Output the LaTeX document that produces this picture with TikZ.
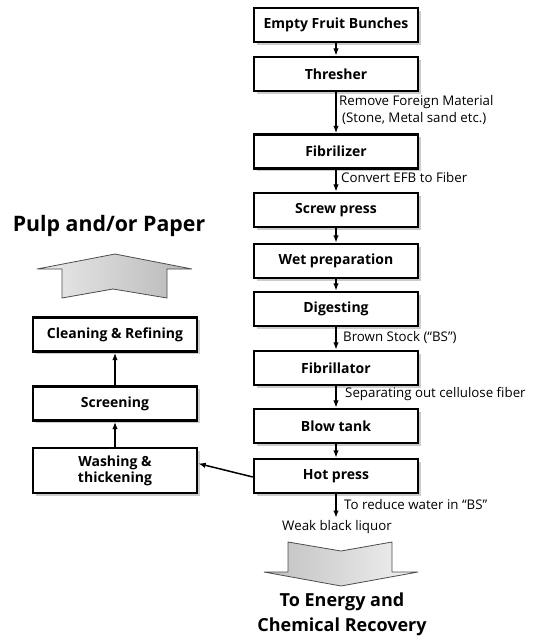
\documentclass[tikz,border=0pt]{standalone}
\usepackage{fontspec}
\setmainfont{Open Sans}
\usetikzlibrary{arrows.meta,shadows}
\begin{document}
\begin{tikzpicture}[x=1pt,y=-1pt,
  stepbox/.style={draw=black,line width=2.4pt,fill=white,minimum width=164pt,minimum height=34pt,
    inner sep=0pt,font=\fontsize{14}{16}\selectfont\bfseries,align=center,
    drop shadow={shadow xshift=2.5pt,shadow yshift=-2.5pt,opacity=0.4,fill=gray}},
  flow/.style={line width=1.5pt,-{Latex[length=7.5pt,width=5.5pt]}},
  lab/.style={font=\fontsize{13.3}{16.5}\selectfont,inner sep=0pt,anchor=west,align=left},
  big/.style={inner sep=0pt},
  bigarrow/.style={draw=black!70,line width=0.8pt}
]
\useasboundingbox (0,0) rectangle (535,638);
% right column
\node[stepbox] (efb) at (336,25) {Empty Fruit Bunches};
\node[stepbox] (thr) at (336,74) {Thresher};
\node[stepbox] (fbz) at (336,151.5) {Fibrilizer};
\node[stepbox] (scr) at (336,210) {Screw press};
\node[stepbox] (wet) at (336,261) {Wet preparation};
\node[stepbox] (dig) at (336,309) {Digesting};
\node[stepbox] (fbt) at (336,368) {Fibrillator};
\node[stepbox] (blw) at (336,426) {Blow tank};
\node[stepbox] (hot) at (336,476) {Hot press};
% left column
\node[stepbox] (cln) at (115,334.5) {Cleaning \& Refining};
\node[stepbox] (scn) at (115,403.5) {Screening};
\node[stepbox,minimum height=45pt] (wsh) at (115,470.5) {Washing \&\\thickening};
% connectors
\draw[flow] (efb) -- (thr);
\draw[flow] (thr) -- (fbz);
\draw[flow] (fbz) -- (scr);
\draw[flow] (scr) -- (wet);
\draw[flow] (wet) -- (dig);
\draw[flow] (dig) -- (fbt);
\draw[flow] (fbt) -- (blw);
\draw[flow] (blw) -- (hot);
\coordinate (hotend) at (336,518);
\draw[flow] (hot) -- (hotend);
\draw[flow] ([yshift=-1pt]hot.west) -- ([yshift=7pt]wsh.east);
\draw[flow] (wsh) -- (scn);
\draw[flow] (scn) -- (cln);
% labels
\node[lab] (l1) at (339,110) {Remove Foreign Material\\\hspace{3pt}(Stone, Metal sand etc.)};
\node[lab] (l2) at (341,178) {Convert EFB to Fiber};
\node[lab] (l3) at (343,337) {Brown Stock (“BS”)};
\node[lab] (l4) at (345,394) {Separating out cellulose fiber};
\node[lab] (l5) at (344,505) {To reduce water in “BS”};
\node[font=\fontsize{13.3}{16}\selectfont,inner sep=0pt] (l6) at (337,527) {Weak black liquor};
% big arrows
\shade[left color=black!8,right color=black!28,bigarrow]
  (115,254) -- (192,269) -- (167,269) -- (167,298) -- (113,289) -- (62,298) -- (62,269) -- (37,269) -- cycle;
\shade[left color=black!25,right color=black!5,bigarrow]
  (288,542) -- (341,551) -- (392,542) -- (392,572) -- (418,572) -- (341,586) -- (264,572) -- (288,572) -- cycle;
\node[big,font=\fontsize{21.3}{26}\selectfont\bfseries] (pulp) at (109,226) {Pulp and/or Paper};
\node[big,align=center,font=\fontsize{18}{25}\selectfont\bfseries] (energy) at (342,614) {To Energy and\\Chemical Recovery};
\end{tikzpicture}
\end{document}
